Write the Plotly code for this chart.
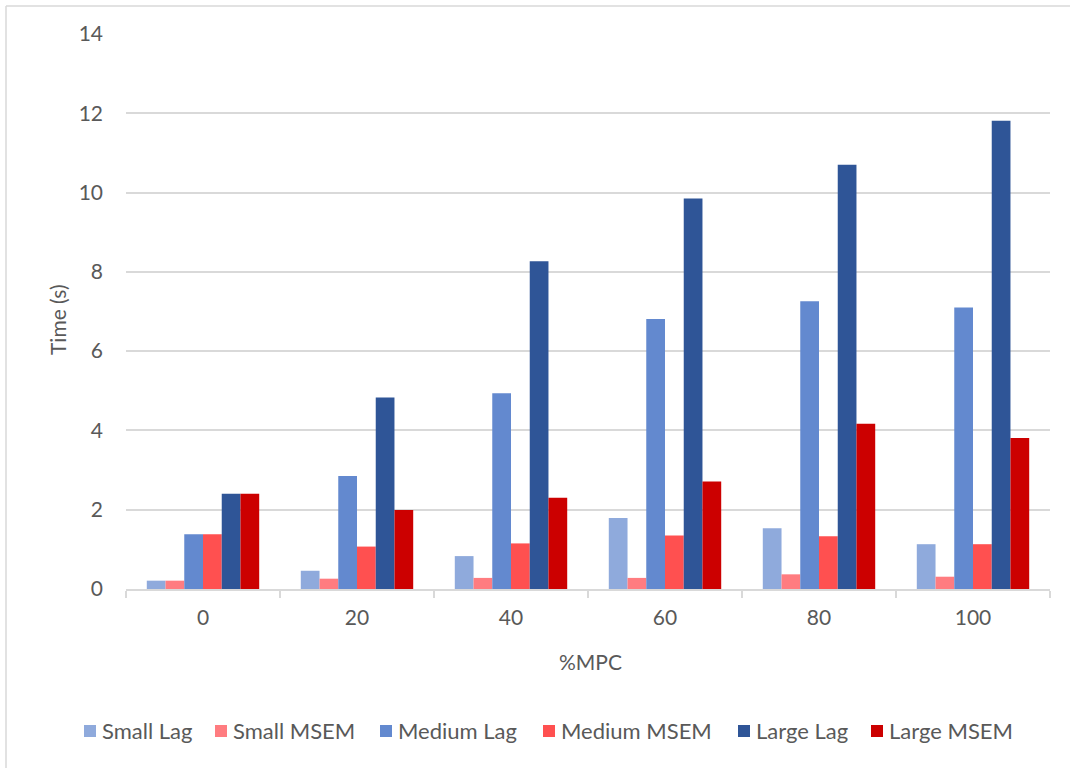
import plotly.graph_objects as go

# %MPC categories
categories = ["0", "20", "40", "60", "80", "100"]

# Run times in seconds per model size and method
small_lag = [0.21, 0.46, 0.83, 1.79, 1.53, 1.13]
small_msem = [0.21, 0.26, 0.28, 0.28, 0.37, 0.31]
medium_lag = [1.38, 2.85, 4.94, 6.81, 7.26, 7.10]
medium_msem = [1.38, 1.07, 1.15, 1.35, 1.33, 1.13]
large_lag = [2.40, 4.83, 8.27, 9.85, 10.70, 11.81]
large_msem = [2.40, 1.99, 2.30, 2.71, 4.17, 3.81]

series_names = ["Small Lag", "Small MSEM", "Medium Lag",
                "Medium MSEM", "Large Lag", "Large MSEM"]
series_values = [small_lag, small_msem, medium_lag,
                 medium_msem, large_lag, large_msem]
series_colors = ["#8FAADC", "#FF7C80", "#6389CF",
                 "#FF5050", "#2F5597", "#CC0000"]

text_color = "#595959"
grid_color = "#D9D9D9"
font_family = "Lato, 'Open Sans', sans-serif"
fs = 21

W, H = 1070, 768
ml, mr, mt, mb = 126, 20, 34, 179
pw = W - ml - mr
ph = H - mt - mb


def px_x(x):
    return (x - ml) / pw


def px_y(y):
    return (H - mb - y) / ph


fig = go.Figure()
for name, values, color in zip(series_names, series_values, series_colors):
    fig.add_trace(go.Bar(
        x=categories,
        y=values,
        name=name,
        marker=dict(color=color, line=dict(width=0)),
        showlegend=False,
    ))

# legend row along the bottom: swatch + label per series
legend_left = [84, 215, 380, 543, 738, 871]
legend_y = 730
swatch = 12
shapes = [
    # outer chart frame (top and left edges)
    dict(type="line", xref="paper", yref="paper",
         x0=px_x(6), x1=px_x(W + 10), y0=px_y(6), y1=px_y(6),
         line=dict(color=grid_color, width=1.5)),
    dict(type="line", xref="paper", yref="paper",
         x0=px_x(6), x1=px_x(6), y0=px_y(6), y1=px_y(H + 10),
         line=dict(color=grid_color, width=1.5)),
]
annotations = []
for name, color, lx in zip(series_names, series_colors, legend_left):
    shapes.append(dict(
        type="rect", xref="paper", yref="paper",
        x0=px_x(lx), x1=px_x(lx + swatch),
        y0=px_y(legend_y - swatch / 2 + 1), y1=px_y(legend_y + swatch / 2 + 1),
        fillcolor=color, line=dict(width=0),
    ))
    annotations.append(dict(
        text=name, xref="paper", yref="paper",
        x=px_x(lx + 16), y=px_y(legend_y),
        xanchor="left", yanchor="middle", showarrow=False,
        font=dict(size=22, color=text_color, family=font_family),
    ))

# axis titles
annotations.append(dict(
    text="%MPC", xref="paper", yref="paper",
    x=px_x(590), y=px_y(661), xanchor="center", yanchor="middle",
    showarrow=False, font=dict(size=fs, color=text_color, family=font_family),
))
annotations.append(dict(
    text="Time (s)", xref="paper", yref="paper", textangle=-90,
    x=px_x(57), y=px_y(320), xanchor="center", yanchor="middle",
    showarrow=False, font=dict(size=fs, color=text_color, family=font_family),
))

fig.update_layout(
    width=W,
    height=H,
    margin=dict(l=ml, r=mr, t=mt, b=mb, autoexpand=False),
    paper_bgcolor="white",
    plot_bgcolor="white",
    barmode="group",
    bargap=0.27,
    bargroupgap=0,
    font=dict(family=font_family, size=fs, color=text_color),
    showlegend=False,
    xaxis=dict(
        type="category",
        automargin=False,
        showgrid=False,
        showline=True,
        linecolor=grid_color,
        linewidth=1.5,
        ticks="outside",
        tickson="boundaries",
        ticklen=7,
        tickcolor=grid_color,
        tickwidth=1.5,
        ticklabelstandoff=9,
        tickfont=dict(size=fs, color=text_color),
    ),
    yaxis=dict(
        range=[0, 14],
        dtick=2,
        automargin=False,
        showgrid=True,
        gridcolor=grid_color,
        gridwidth=1.5,
        zeroline=False,
        showline=False,
        ticks="",
        ticklabelstandoff=22,
        tickfont=dict(size=fs, color=text_color),
    ),
    shapes=shapes,
    annotations=annotations,
)

fig.write_html("out.html")
